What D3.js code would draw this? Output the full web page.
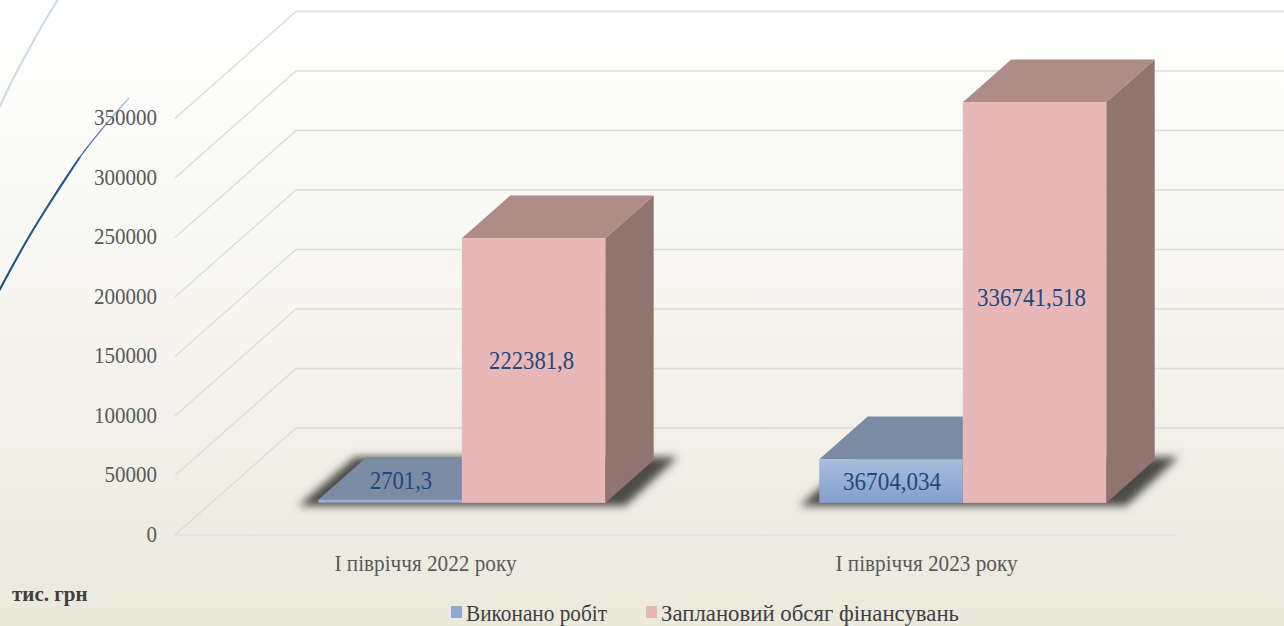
<!DOCTYPE html>
<html>
<head>
<meta charset="utf-8">
<script src="https://cdn.jsdelivr.net/npm/d3@7"></script>
<style>
html, body { margin: 0; padding: 0; background: #fff; overflow: hidden; }
svg { display: block; font-family: "Liberation Serif", serif; }
</style>
</head>
<body>
<svg id="chart" width="1284" height="626"></svg>
<script>
// chart data
const categories = ['І півріччя 2022 року', 'І півріччя 2023 року'];
const seriesNames = ['Виконано робіт', 'Заплановий обсяг фінансувань'];
const doneValues = [2701.3, 36704.034];
const plannedValues = [222381.8, 336741.518];
const doneLabels = ['2701,3', '36704,034'];
const plannedLabels = ['222381,8', '336741,518'];
const yTicks = [0, 50000, 100000, 150000, 200000, 250000, 300000, 350000];

// layout of the fake 3d box
const floorLeft = 175;
const floorRight = 1177;
const floorY = 535;
const wallDx = 121;
const wallDy = 107;
const barDepthStart = 0.3;
const barDepthEnd = 0.7;

const colors = {
    done: { top: '#7b8ba4', side: '#66768f' },
    planned: { front: '#e8b7b7', top: '#ae8c88', side: '#917370' }
};

// hand placed offsets for the value labels, same order as the values
const doneNudge = [[11, -21], [1, 0]];
const plannedNudge = [[-2, -10], [-3, -5]];

// the reference text is squeezed sideways, so keep its measured widths
const doneLabelWidths = [62, 98];
const plannedLabelWidths = [85, 109];
const legendTextWidths = [141, 298];

const svg = d3.select('#chart');
const defs = svg.append('defs');

const bg = defs.append('linearGradient').attr('id', 'bg').attr('x1', 0).attr('y1', 0).attr('x2', 0).attr('y2', 1);
bg.append('stop').attr('offset', 0).attr('stop-color', '#ffffff');
bg.append('stop').attr('offset', 0.5).attr('stop-color', '#f6f5f0');
bg.append('stop').attr('offset', 1).attr('stop-color', '#ebe9dc');

const blueFront = defs.append('linearGradient').attr('id', 'blueFront').attr('x1', 0).attr('y1', 0).attr('x2', 0).attr('y2', 1);
blueFront.append('stop').attr('offset', 0).attr('stop-color', '#a9bddd');
blueFront.append('stop').attr('offset', 1).attr('stop-color', '#81a0cd');

const darkArc = defs.append('linearGradient').attr('id', 'darkArc').attr('gradientUnits', 'userSpaceOnUse')
    .attr('x1', 0).attr('y1', 290).attr('x2', 129).attr('y2', 98);
darkArc.append('stop').attr('offset', 0).attr('stop-color', '#1f4e86');
darkArc.append('stop').attr('offset', 0.65).attr('stop-color', '#2b5c94');
darkArc.append('stop').attr('offset', 1).attr('stop-color', '#a9c0dc');

defs.append('filter').attr('id', 'shadowBlur')
    .attr('x', '-10%').attr('y', '-30%').attr('width', '120%').attr('height', '160%')
    .append('feGaussianBlur').attr('stdDeviation', 4);

svg.append('rect').attr('width', 1284).attr('height', 626).attr('fill', 'url(#bg)');

// decoration arcs from the slide template
const lightArc = [[59, -2], [43, 24], [28, 51], [13, 79], [-1, 108]];
const darkArcLower = [[-1, 291], [33, 230], [80, 157]];
const darkArcFull = [[-1, 291], [33, 230], [80, 157], [129, 98]];
const arcLine = d3.line().curve(d3.curveNatural);
svg.append('path').attr('d', arcLine(lightArc)).attr('fill', 'none').attr('stroke', '#ccd9e8').attr('stroke-width', 2);
svg.append('path').attr('d', arcLine(darkArcFull)).attr('fill', 'none').attr('stroke', 'url(#darkArc)').attr('stroke-width', 1.2);
svg.append('path').attr('d', arcLine(darkArcLower)).attr('fill', 'none').attr('stroke', 'url(#darkArc)').attr('stroke-width', 2);

// scales
const yScale = d3.scaleLinear().domain([0, 350000]).range([floorY, floorY - 416.5]);
const x0 = d3.scaleBand().domain(categories).range([floorLeft, floorRight]);
const barWidth = 143.5;
const x1 = d3.scaleBand().domain(seriesNames).range([-barWidth, barWidth]);

// walls and floor
const grid = svg.append('g');
yTicks.forEach(t => {
    const y = yScale(t);
    grid.append('path')
        .attr('d', `M${floorLeft},${y}L${floorLeft + wallDx},${y - wallDy}L${floorRight + wallDx},${y - wallDy}`)
        .attr('fill', 'none')
        .attr('stroke', '#dcdcd8')
        .attr('stroke-width', 1.3);
});
grid.append('line')
    .attr('x1', floorLeft).attr('x2', floorRight)
    .attr('y1', floorY).attr('y2', floorY)
    .attr('stroke', '#dddfe0').attr('stroke-width', 1.5);

// axes
const yAxis = d3.axisLeft(yScale).tickValues(yTicks).tickFormat(d3.format('d')).tickSize(0).tickPadding(0);
const yG = svg.append('g').attr('transform', 'translate(157,-1)').call(yAxis);
yG.select('.domain').remove();
yG.selectAll('text')
    .attr('font-size', 23)
    .attr('fill', '#595959')
    .attr('font-family', '"Liberation Serif", serif')
    .attr('textLength', d => String(d).length * 10.5)
    .attr('lengthAdjust', 'spacingAndGlyphs');

const xAxis = d3.axisBottom(x0).tickSize(0).tickPadding(0);
const xG = svg.append('g').attr('transform', 'translate(0,555)').call(xAxis);
xG.select('.domain').remove();
xG.selectAll('text')
    .attr('font-size', 23)
    .attr('fill', '#595959')
    .attr('font-family', '"Liberation Serif", serif')
    .attr('textLength', 182)
    .attr('lengthAdjust', 'spacingAndGlyphs');

// point on the floor at a given depth (0 front, 1 back wall)
const project = (x, depth, height) => [x + wallDx * depth, floorY - wallDy * depth - height];
const polyPath = pts => d3.line()(pts) + 'Z';

// floor shadows
const shadows = svg.append('g').attr('filter', 'url(#shadowBlur)');
categories.forEach(c => {
    const left = x0(c) + x0.bandwidth() / 2 - barWidth;
    const right = left + barWidth * 2;
    const fl = project(left, barDepthStart, 0);
    const fr = project(right, barDepthStart, 0);
    const br = project(right, barDepthEnd, 0);
    const bl = project(left, barDepthEnd, 0);
    shadows.append('path')
        .attr('d', polyPath([[fl[0] - 20, fl[1] + 3], [fr[0] + 20, fr[1] + 3], [br[0] + 24, br[1] - 3], [bl[0] - 12, bl[1] - 3]]))
        .attr('fill', '#4c4c46');
});

function drawBar(category, series, value, style) {
    const h = yScale(0) - yScale(value);
    const left = x0(category) + x0.bandwidth() / 2 + x1(series);
    const right = left + x1.bandwidth();
    const g = svg.append('g');
    g.append('path').attr('fill', style.side).attr('d', polyPath([
        project(right, barDepthStart, 0), project(right, barDepthEnd, 0),
        project(right, barDepthEnd, h), project(right, barDepthStart, h)
    ]));
    g.append('path').attr('fill', style.top).attr('d', polyPath([
        project(left, barDepthStart, h), project(right, barDepthStart, h),
        project(right, barDepthEnd, h), project(left, barDepthEnd, h)
    ]));
    const fl = project(left, barDepthStart, h);
    g.append('rect')
        .attr('x', fl[0]).attr('y', fl[1])
        .attr('width', x1.bandwidth()).attr('height', h)
        .attr('fill', style.front);
    return [fl[0] + x1.bandwidth() / 2, fl[1] + h / 2];
}

const labels = [];
categories.forEach((c, i) => {
    const a = drawBar(c, seriesNames[0], doneValues[i], { front: 'url(#blueFront)', top: colors.done.top, side: colors.done.side });
    const b = drawBar(c, seriesNames[1], plannedValues[i], colors.planned);
    labels.push({ x: a[0] + doneNudge[i][0], y: a[1] + doneNudge[i][1], text: doneLabels[i], width: doneLabelWidths[i] });
    labels.push({ x: b[0] + plannedNudge[i][0], y: b[1] + plannedNudge[i][1], text: plannedLabels[i], width: plannedLabelWidths[i] });
});

svg.append('g').selectAll('text').data(labels).enter().append('text')
    .attr('x', d => d.x)
    .attr('y', d => d.y)
    .attr('text-anchor', 'middle')
    .attr('dominant-baseline', 'central')
    .attr('font-size', 26)
    .attr('fill', '#1f497d')
    .attr('textLength', d => d.width)
    .attr('lengthAdjust', 'spacingAndGlyphs')
    .text(d => d.text);

// unit label
svg.append('text').attr('x', 12).attr('y', 601)
    .attr('font-size', 21).attr('font-weight', 'bold').attr('fill', '#404040')
    .text('тис. грн');

// legend
const legendX = [451, 646];
const legendFill = ['#8faad2', '#e8b7b7'];
const legend = svg.append('g').selectAll('g').data(seriesNames).enter().append('g')
    .attr('transform', (d, i) => `translate(${legendX[i]},606)`);
legend.append('rect').attr('width', 11).attr('height', 12).attr('fill', (d, i) => legendFill[i]);
legend.append('text').attr('x', 15).attr('y', 15)
    .attr('font-size', 23).attr('fill', '#404040')
    .attr('textLength', (d, i) => legendTextWidths[i])
    .attr('lengthAdjust', 'spacingAndGlyphs')
    .text(d => d);
</script>
</body>
</html>
